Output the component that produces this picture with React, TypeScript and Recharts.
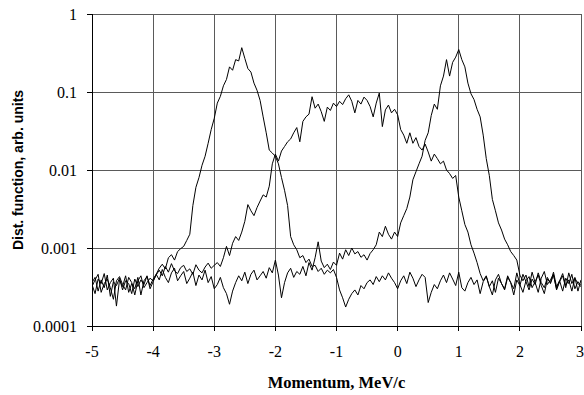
import { LineChart, Line, XAxis, YAxis, CartesianGrid, Label } from "recharts";

// momentum grid: -5 .. 3 MeV/c, every 0.05
const xStart = -5;
const xStep = 0.05;
// the three distributions below are written in units of 1e-4
const unit = 1e-4;

const leftPeak = [
    3.6, 4.2, 2.8, 3.9, 3.1, 4.5, 2.4, 3.7, 3.3, 4.1,
    2.9, 3.8, 3.5, 2.6, 4.0, 3.2, 3.9, 3.4, 4.4, 3.0,
    3.7, 4.6, 5.5, 6.2, 5.4, 7.5, 8.2, 7.0, 9.0, 9.8,
    10.5, 12.5, 15, 35, 60, 80, 115, 150, 220, 330,
    460, 720, 880, 1200, 1450, 2100, 1900, 2600, 2500, 3700,
    2700, 2000, 1800, 1300, 1050, 780, 480, 300, 180, 165,
    150, 120, 80, 55, 35, 14, 11, 9.5, 7.5, 8.0,
    6.5, 7.2, 5.8, 6.0, 5.0, 5.5, 4.6, 5.2, 4.8, 5.3,
    4.2, 2.9, 2.3, 1.75, 2.2, 2.6, 2.9, 2.5, 3.3, 3.0,
    3.6, 3.9, 3.4, 4.3, 3.7, 4.4, 3.9, 4.8, 4.1, 3.6,
    3.0, 3.8, 4.4, 3.5, 4.9, 4.1, 3.2, 3.9, 4.6, 4.2,
    2.0, 2.7, 3.4, 3.0, 3.8, 4.5, 3.6, 4.8, 4.0, 3.3,
    4.9, 3.1, 2.8, 3.6, 4.2, 3.4, 3.9, 2.6, 3.7, 4.3,
    3.2, 3.8, 2.7, 4.1, 3.5, 3.0, 4.4, 3.6, 2.5, 3.9,
    3.3, 4.6, 3.7, 2.9, 4.0, 3.4, 4.8, 3.6, 3.1, 4.2,
    3.5, 4.5, 3.0, 3.8, 4.7, 3.3, 3.9, 2.8, 4.1, 3.5,
    3.2,
];

const broad = [
    3.2, 3.9, 4.6, 2.7, 3.5, 4.0, 3.1, 2.2, 3.8, 4.3,
    3.4, 2.9, 4.2, 3.6, 2.5, 3.8, 4.4, 3.1, 3.6, 4.1,
    3.8, 4.5, 5.2, 4.4, 5.8, 4.9, 6.3, 5.1, 4.7, 5.6,
    6.0, 5.0, 5.4, 4.6, 6.1, 5.2, 4.8, 5.7, 6.4, 5.5,
    6.0, 6.5, 5.8, 7.5, 10.5, 8.0, 11.5, 14, 12.5, 16,
    22, 36, 30, 26, 33, 40, 48, 45, 62, 120,
    160, 130, 175, 200, 230, 250, 300, 350, 230, 420,
    480, 520, 870, 620, 700, 560, 420, 640, 580, 720,
    650, 760, 690, 820, 920, 760, 540, 780, 700, 860,
    780, 650, 480, 720, 970, 360, 590, 680, 540, 600,
    510, 330, 280, 220, 300, 220, 260, 200, 180, 215,
    170, 130, 160, 140, 120, 130, 100, 90, 78, 85,
    45, 30, 20, 16, 11, 8.6, 6.5, 4.7, 3.8, 4.4,
    3.2, 2.5, 3.9, 4.6, 3.5, 2.9, 4.2, 3.6, 3.0, 4.8,
    3.4, 2.7, 3.8, 4.3, 3.1, 3.7, 4.5, 3.3, 2.6, 4.0,
    3.6, 4.9, 3.2, 3.8, 2.8, 4.1, 3.5, 4.6, 3.0, 3.7,
    3.3,
];

const rightPeak = [
    3.4, 2.6, 4.0, 3.5, 4.7, 2.9, 3.6, 4.1, 1.8, 3.9,
    3.2, 4.4, 2.7, 3.5, 3.0, 4.2, 2.5, 3.8, 4.3, 3.3,
    4.0, 4.6, 3.9, 5.3, 4.2, 3.6, 4.8, 5.5, 3.8, 4.4,
    5.0, 3.5, 4.1, 4.9, 3.3, 4.5, 3.9, 5.2, 3.6, 4.3,
    3.0, 3.4, 4.2, 3.1, 2.6, 1.9, 2.8, 3.6, 4.4, 3.8,
    4.9, 3.5, 4.6, 5.2, 3.9, 4.4, 5.0, 4.1, 5.6, 4.8,
    7.0, 4.5, 2.3, 3.6, 4.8, 5.5, 4.2, 5.0, 4.6, 5.8,
    4.4, 6.5, 5.2, 7.5, 12, 6.8, 5.6, 6.2, 5.3, 6.6,
    6.0, 8.6, 7.2, 9.5, 8.0, 10, 8.4, 9.0, 7.6, 8.2,
    7.0, 8.5, 9.5, 11, 16, 14, 19, 15, 13, 16,
    14, 21, 26, 32, 45, 75, 95, 120, 150, 240,
    300, 500, 700, 600, 1200, 1600, 2600, 1600, 2400, 2800,
    3500, 2600, 2100, 1300, 950, 800, 600, 480, 280, 140,
    85, 42, 30, 21, 17, 13, 11, 9.0, 8.0, 7.0,
    4.5, 3.8, 4.5, 3.2, 4.9, 3.6, 2.7, 4.1, 5.0, 3.4,
    3.9, 4.6, 2.9, 3.7, 4.4, 3.1, 4.8, 3.5, 4.2, 2.8,
    3.9,
];

const xTicks = [-5, -4, -3, -2, -1, 0, 1, 2, 3];
const yTicks = [0.0001, 0.001, 0.01, 0.1, 1];

const data = leftPeak.map((v, i) => ({
    x: Number((xStart + i * xStep).toFixed(2)),
    a: v * unit,
    b: broad[i] * unit,
    c: rightPeak[i] * unit,
}));

const serif = "'Liberation Serif', 'Times New Roman', serif";
const sans = "'Liberation Sans', Arial, sans-serif";

function YTitle(props: any) {
    const vb = props.viewBox || { x: 0, y: 14, width: 92, height: 312 };
    const cx = 23;
    const cy = vb.y + vb.height / 2;
    return (
        <text x={cx} y={cy} transform={`rotate(-90 ${cx} ${cy})`} textAnchor="middle"
            style={{ fontFamily: sans, fontSize: 14, fontWeight: "bold", fill: "#000" }}>
            Dist. function, arb. units
        </text>
    );
}

function XTitle(props: any) {
    const vb = props.viewBox || { x: 92, y: 326, width: 489, height: 69 };
    return (
        <text x={vb.x + vb.width / 2} y={vb.y + 62} textAnchor="middle"
            style={{ fontFamily: serif, fontSize: 16.5, fontWeight: "bold", fill: "#000" }}>
            Momentum, MeV/c
        </text>
    );
}

export default function App() {
    return (
        <div style={{ position: "absolute", left: 0, top: 0, width: 584, height: 395, background: "#fff" }}>
            <LineChart width={584} height={395} data={data} margin={{ top: 14, right: 3, bottom: 0, left: 0 }}>
                <CartesianGrid
                    stroke="#5a5a5a"
                    strokeWidth={1}
                    shapeRendering="crispEdges"
                    horizontal={{ stroke: "#5a5a5a", shapeRendering: "crispEdges" } as any}
                    vertical={{ stroke: "#5a5a5a", shapeRendering: "crispEdges" } as any}
                />
                <XAxis
                    dataKey="x"
                    type="number"
                    domain={[-5, 3]}
                    ticks={xTicks}
                    height={69}
                    tickSize={5}
                    tickMargin={15}
                    axisLine={{ stroke: "#000", shapeRendering: "crispEdges" }}
                    tickLine={{ stroke: "#000", shapeRendering: "crispEdges" }}
                    tick={{ fontFamily: serif, fontSize: 16, fill: "#000" }}
                    allowDataOverflow
                >
                    <Label content={XTitle} />
                </XAxis>
                <YAxis
                    type="number"
                    scale="log"
                    domain={[0.0001, 1]}
                    ticks={yTicks}
                    width={92}
                    tickSize={5}
                    tickMargin={10}
                    axisLine={{ stroke: "#000", shapeRendering: "crispEdges" }}
                    tickLine={{ stroke: "#000", shapeRendering: "crispEdges" }}
                    tick={{ fontFamily: serif, fontSize: 16, fill: "#000" }}
                    tickFormatter={(v: number) => String(v)}
                    allowDataOverflow
                >
                    <Label content={YTitle} />
                </YAxis>
                <Line type="linear" dataKey="a" stroke="#000" strokeWidth={1} dot={false} isAnimationActive={false} />
                <Line type="linear" dataKey="b" stroke="#000" strokeWidth={1} dot={false} isAnimationActive={false} />
                <Line type="linear" dataKey="c" stroke="#000" strokeWidth={1} dot={false} isAnimationActive={false} />
            </LineChart>
        </div>
    );
}
